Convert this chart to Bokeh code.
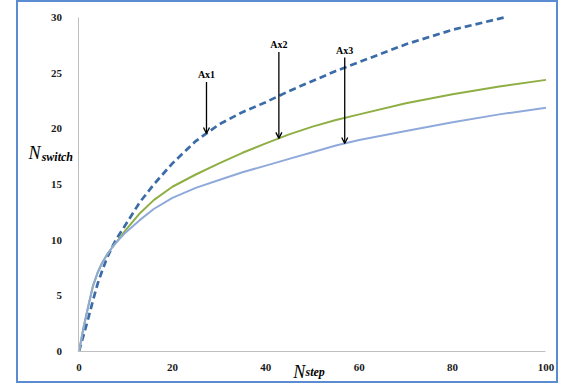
import numpy as np
from bokeh.plotting import figure
from bokeh.models import Range1d, Label, Arrow, OpenHead, FixedTicker, LinearAxis
from bokeh.embed import file_html
from bokeh.resources import INLINE

# Number of switches as a function of the number of steps, for three axes
steps = [0, 1, 2, 3, 4, 5, 6, 7, 8, 10, 13, 16, 20, 25, 30, 35, 40, 45, 50, 55, 60, 70, 80, 90, 100]
ax1_steps = [0, 1, 2, 3, 4, 5, 6, 7, 8, 10, 13, 16, 20, 25, 30, 35, 40, 45, 50, 55, 60, 70, 80, 90, 91]
ax1_switch = [0, 1.5, 3.0, 4.6, 6.1, 7.3, 8.4, 9.3, 10.1, 11.4, 13.4, 15.0, 16.9, 18.9, 20.4,
              21.5, 22.4, 23.4, 24.3, 25.2, 26.0, 27.6, 28.9, 29.9, 30.0]
ax2_switch = [0, 2.2, 4.1, 5.9, 7.1, 8.0, 8.7, 9.3, 9.8, 10.9, 12.4, 13.6, 14.8, 15.9, 16.9,
              17.85, 18.7, 19.5, 20.2, 20.8, 21.3, 22.3, 23.1, 23.8, 24.4]
ax3_switch = [0, 2.2, 4.1, 5.9, 7.1, 8.0, 8.7, 9.3, 9.8, 10.7, 11.8, 12.8, 13.8, 14.7, 15.4,
              16.1, 16.7, 17.3, 17.9, 18.5, 19.0, 19.8, 20.6, 21.3, 21.9]

x_ticks = [0, 20, 40, 60, 80, 100]
y_ticks = [0, 5, 10, 15, 20, 25, 30]

# Callout arrows: label, step where the arrow points, top of the arrow shaft
callout_names = ["Ax1", "Ax2", "Ax3"]
callout_steps = [27.3, 42.8, 56.9]
callout_tops = [24.2, 26.9, 26.4]

SERIF = "Liberation Serif"

# The frame fills the whole canvas; the axes sit at x=0 and y=0 inside it,
# leaving room around the data area for tick labels and axis titles.
p = figure(width=542, height=383, output_backend="svg", toolbar_location=None,
           x_range=Range1d(-12.955, 103.105), y_range=Range1d(-3.054, 31.35),
           x_axis_location=None, y_axis_location=None,
           min_border=0, margin=(0, 0, 0, 16),
           styles={"border": "2px solid #5B8BD0"})
p.outline_line_color = None
p.grid.visible = False
p.background_fill_color = "white"
p.border_fill_color = "white"

x_axis = LinearAxis(fixed_location=0, bounds=(0, 100), ticker=FixedTicker(ticks=x_ticks))
y_axis = LinearAxis(fixed_location=0, bounds=(0, 30), ticker=FixedTicker(ticks=y_ticks))
for ax in (x_axis, y_axis):
    ax.major_tick_line_color = None
    ax.minor_tick_line_color = None
    ax.axis_line_color = "#BFBFBF"
    ax.axis_line_width = 1
    ax.major_label_text_font = SERIF
    ax.major_label_text_font_style = "bold"
    ax.major_label_text_font_size = "11px"
    ax.major_label_text_color = "#1a1a1a"
y_axis.major_label_standoff = 11
x_axis.major_label_standoff = 6
p.add_layout(x_axis, "below")
p.add_layout(y_axis, "left")

# Axis titles with subscripts
def title_part(x, y, text, size, style):
    return Label(x=x, y=y, text=text, text_font=SERIF, text_font_style=style,
                 text_font_size=size, text_baseline="alphabetic", text_color="black")

p.add_layout(title_part(-10.8, 17.87, "N", "18px", "italic"))
p.add_layout(title_part(-8.0, 17.43, "switch", "12px", "bold italic"))
p.add_layout(title_part(45.9, -1.80, "N", "18px", "italic"))
p.add_layout(title_part(48.5, -1.86, "step", "12px", "bold italic"))

p.line(ax1_steps, ax1_switch, line_color="#3B6CA8", line_width=2.7, line_dash="7 4")
p.line(steps, ax2_switch, line_color="#8FAF45", line_width=2)
p.line(steps, ax3_switch, line_color="#8FAADA", line_width=2)

curves = [(ax1_steps, ax1_switch), (steps, ax2_switch), (steps, ax3_switch)]
for name, xs, top, (cx, cy) in zip(callout_names, callout_steps, callout_tops, curves):
    tip = float(np.interp(xs, cx, cy))
    p.add_layout(Arrow(end=OpenHead(size=6, line_width=1.3, line_color="black"),
                       x_start=xs, y_start=top, x_end=xs, y_end=tip,
                       line_color="black", line_width=1.3))
    p.add_layout(Label(x=xs, y=top, text=name, text_align="center", text_baseline="bottom",
                       y_offset=2, text_font=SERIF, text_font_style="bold",
                       text_font_size="10px", text_color="black"))

open("out.html", "w").write(file_html(p, INLINE))
